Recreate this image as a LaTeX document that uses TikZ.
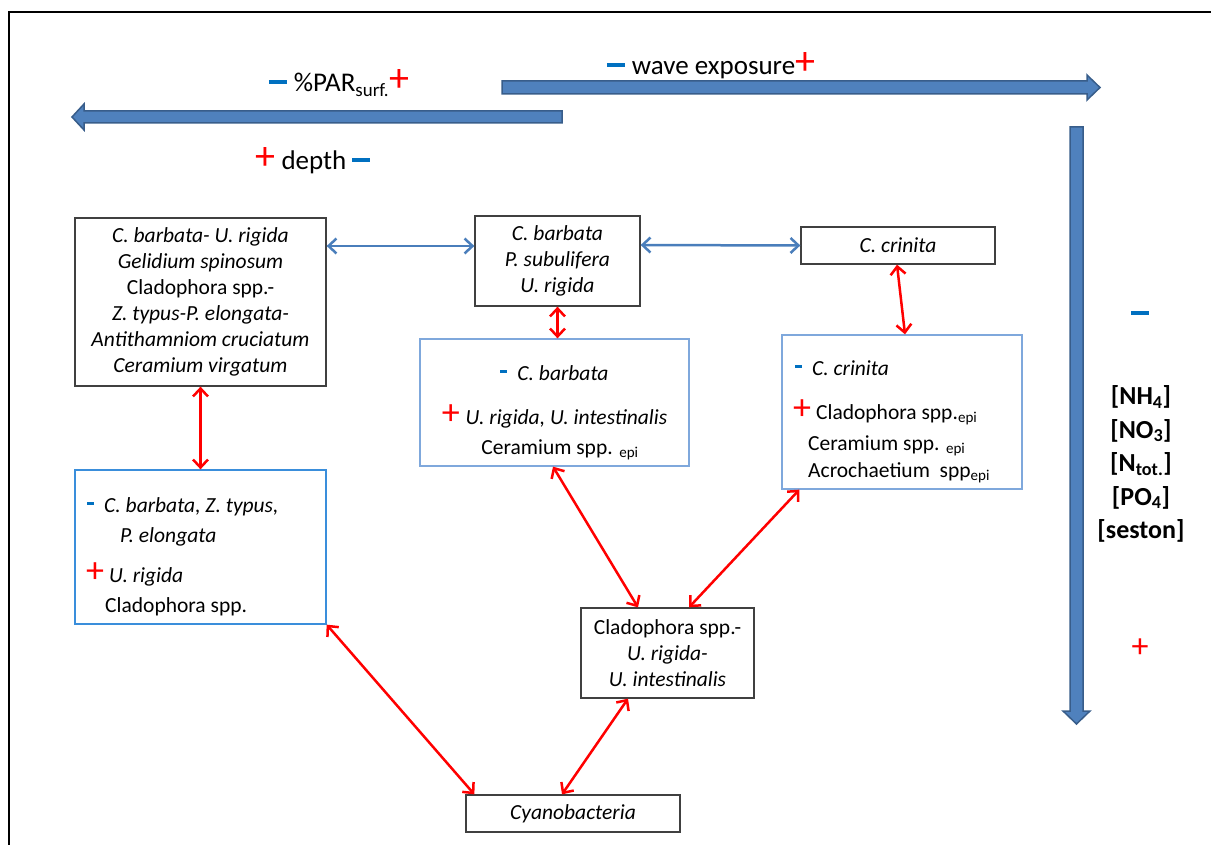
\documentclass[tikz,border=0pt]{standalone}
\usepackage{fontspec}
\setmainfont{Carlito}
\usetikzlibrary{arrows.meta,calc}
\definecolor{arrfill}{HTML}{4F81BD}
\definecolor{arrdraw}{HTML}{385D8A}
\definecolor{conblue}{HTML}{4A7EBB}
\definecolor{mblue}{HTML}{0070C0}
\definecolor{bbord}{HTML}{7FA8DC}
\definecolor{bbordb}{HTML}{3A8EDB}
\definecolor{gbord}{HTML}{404040}
\newcommand{\myminus}{\textcolor{mblue}{\rule[7pt]{7pt}{3pt}}}
\newcommand{\mybigminus}{\textcolor{mblue}{\rule[8pt]{18pt}{4pt}}}
\newcommand{\myplus}{\textcolor{red}{\fontsize{36}{36}\selectfont +}}
\newcommand{\mybigplus}{\textcolor{red}{\fontsize{40}{40}\selectfont +}}
\tikzset{
  blockarrow/.style={fill=arrfill, draw=arrdraw, line width=1.5pt, line join=miter},
  gbox/.style={draw=gbord, line width=1.3pt, fill=white, inner sep=0pt, align=center,
     font=\fontsize{21.5}{26}\selectfont},
  bbox/.style={draw=bbord, line width=1.3pt, fill=white, inner sep=0pt},
  txt/.style={inner sep=0pt, font=\fontsize{21.5}{26}\selectfont},
  head/.style={inner sep=0pt, font=\fontsize{27}{32}\selectfont},
  bcon/.style={draw=conblue, line width=2.5pt, {Straight Barb[length=8pt,width=15pt]}-{Straight Barb[length=8pt,width=15pt]}},
  rcon/.style={draw=red, line width=2.5pt, {Straight Barb[length=8pt,width=15pt]}-{Straight Barb[length=8pt,width=15pt]}}
}
\begin{document}
\begin{tikzpicture}[x=1pt,y=-1pt]
\useasboundingbox (0,0) rectangle (1211,845);
% frame
\draw[line width=2.5pt] (9,845) -- (9,12) -- (1211,12);

% gradient block arrows
\draw[blockarrow] (562,111) -- (84,111) -- (84,104) -- (72,117) -- (84,130) -- (84,123) -- (562,123) -- cycle;
\draw[blockarrow] (502,81) -- (1087,81) -- (1087,75) -- (1100,87.5) -- (1087,100) -- (1087,94) -- (502,94) -- cycle;
\draw[blockarrow] (1070,127) -- (1070,711) -- (1063,711) -- (1076.5,724) -- (1090,711) -- (1083,711) -- (1083,127) -- cycle;

% headings
\node[head, anchor=base] (par) at (339,92) {\mybigminus\hspace{7pt}\%PAR\textsubscript{surf.}\mybigplus};
\node[head, anchor=base] (depth) at (313,170) {\mybigplus\hspace{6pt}depth\hspace{6pt}\mybigminus};
\node[head, anchor=base] (wave) at (711,75) {\mybigminus\hspace{7pt}wave exposure\mybigplus};

% nutrient gradient
\node[inner sep=0pt] (nminus) at (1140,313) {\textcolor{mblue}{\rule{18pt}{4pt}}};
\node[inner sep=0pt, align=center, font=\bfseries\fontsize{26}{33.5}\selectfont] (nut) at (1141,464)
  {{[}NH\textsubscript{4}{]}\\{[}NO\textsubscript{3}{]}\\{[}N\textsubscript{tot.}{]}\\{[}PO\textsubscript{4}{]}\\{[}seston{]}};
\node[inner sep=0pt, font=\fontsize{34}{34}\selectfont, text=red] (nplus) at (1140,648) {+};

% boxes
\node[gbox, minimum width=251pt, minimum height=168pt] (A) at (200.5,302)
  {\textit{C. barbata- U. rigida}\\ \textit{Gelidium spinosum}\\ Cladophora spp.-\\ \textit{Z. typus-P. elongata-}\\ \textit{Antithamniom cruciatum}\\ \textit{Ceramium virgatum}};
\node[gbox, minimum width=165pt, minimum height=90pt] (B) at (557.5,261)
  {\textit{C. barbata}\\ \textit{P. subulifera}\\ \textit{U. rigida}};
\node[gbox, minimum width=194pt, minimum height=37pt] (C) at (898,245.5) {\textit{C. crinita}};
\node[bbox, minimum width=269pt, minimum height=127pt] (D) at (554.5,402.5) {};
\node[bbox, minimum width=240pt, minimum height=154pt] (E) at (902,412) {};
\node[bbox, draw=bbordb, minimum width=251pt, minimum height=154pt] (F) at (200.5,547) {};
\node[gbox, minimum width=173pt, minimum height=90pt] (G) at (667.5,653)
  {Cladophora spp.-\\ \textit{U. rigida-}\\ \textit{U. intestinalis}};
\node[gbox, minimum width=214pt, minimum height=37pt] (H) at (573,813.5) {\textit{Cyanobacteria}};

% texts of the blue boxes
\node[txt, anchor=base] (d1) at (554.5,380) {\myminus\hspace{10pt}\textit{C. barbata}};
\node[txt, anchor=base] (d2) at (554.5,424) {\myplus\hspace{6pt}\textit{U. rigida, U. intestinalis}};
\node[txt, anchor=base] (d3) at (560,454) {Ceramium spp. \textsubscript{epi}};

\node[txt, anchor=base west] (e1) at (795,375) {\myminus\hspace{10pt}\textit{C. crinita}};
\node[txt, anchor=base west] (e2) at (793,419) {\myplus\hspace{5pt}Cladophora spp.\textsubscript{epi}};
\node[txt, anchor=base west] (e3) at (808,450) {Ceramium spp. \textsubscript{epi}};
\node[txt, anchor=base west] (e4) at (808,477) {Acrochaetium\ \ spp\textsubscript{epi}};

\node[txt, anchor=base west] (f1) at (87,512) {\myminus\hspace{10pt}\textit{C. barbata, Z. typus,}};
\node[txt, anchor=base west] (f2) at (120,542) {\textit{P. elongata}};
\node[txt, anchor=base west] (f3) at (86,582) {\myplus\hspace{5pt}\textit{U. rigida}};
\node[txt, anchor=base west] (f4) at (105,612) {Cladophora spp.};

% connectors
\draw[bcon] ([yshift=56pt]A.east) -- ([yshift=15pt]B.west);
\draw[bcon] ([yshift=16pt]B.east) -- (C.west);
\draw[rcon] (B.south) -- (B.south |- D.north);
\draw[rcon] ([xshift=-1pt]C.south) -- ([xshift=3pt]E.north);
\draw[rcon] (A.south) -- (F.north);
\draw[rcon] ([xshift=-1.5pt]D.south) -- ([xshift=-29.5pt]G.north);
\draw[rcon] ([xshift=18pt]E.south west) -- ([xshift=21.5pt]G.north);
\draw[rcon] (F.south east) -- ([xshift=9pt]H.north west);
\draw[rcon] ([xshift=-39.5pt]G.south) -- ([xshift=-11pt]H.north);
\end{tikzpicture}
\end{document}
